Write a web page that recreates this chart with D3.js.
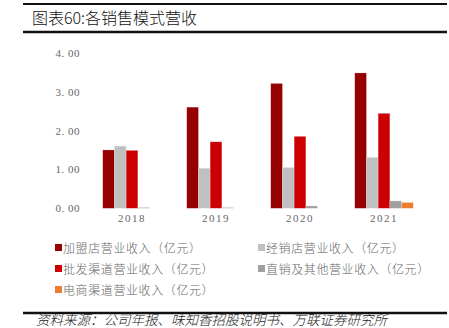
<!DOCTYPE html>
<html><head><meta charset="utf-8">
<script src="https://cdn.jsdelivr.net/npm/d3@7"></script>
<style>body{margin:0;background:#fff;}svg{display:block;}</style>
</head><body>
<script>
const categories = ["2018", "2019", "2020", "2021"];
const seriesNames = ["加盟店营业收入（亿元）", "经销店营业收入（亿元）", "批发渠道营业收入（亿元）", "直销及其他营业收入（亿元）", "电商渠道营业收入（亿元）"];
const franchise = [1.50, 2.60, 3.21, 3.48];
const dealer = [1.60, 1.03, 1.05, 1.31];
const wholesale = [1.49, 1.71, 1.85, 2.44];
const direct = [0.02, 0.02, 0.06, 0.19];
const ecommerce = [0.00, 0.00, 0.00, 0.15];
const yTicks = [0, 1, 2, 3, 4];
const colors = ["#960000", "#c0c0c0", "#cc0000", "#a0a0a0", "#ed7d31"];
const title = "图表60:各销售模式营收";
const source = "资料来源：公司年报、味知香招股说明书、万联证券研究所";

const W = 449, H = 328;
const svg = d3.select("body").append("svg").attr("width", W).attr("height", H);
const cjk = "'Noto Sans CJK SC', 'Noto Sans', sans-serif";
const serif = "'Liberation Serif', 'DejaVu Serif', serif";

// frame lines
svg.append("line").attr("x1", 23).attr("x2", 447).attr("y1", 4).attr("y2", 4).attr("stroke", "#111").attr("stroke-width", 2);
svg.append("line").attr("x1", 23).attr("x2", 447).attr("y1", 32).attr("y2", 32).attr("stroke", "#111").attr("stroke-width", 2.5);
svg.append("line").attr("x1", 23).attr("x2", 447).attr("y1", 313).attr("y2", 313).attr("stroke", "#111").attr("stroke-width", 2.5);

svg.append("text").attr("x", 32).attr("y", 24).attr("font-family", cjk).attr("font-size", 16).attr("font-weight", 300).attr("fill", "#111").text(title);
svg.append("text").attr("x", 36).attr("y", 325).attr("font-family", cjk).attr("font-size", 13.5).attr("font-weight", 300).attr("font-style", "italic").attr("fill", "#222").text(source);

const x0 = d3.scaleBand().domain(categories).range([90, 426]).paddingInner(25.5/84).paddingOuter(25.5/84/2);
const x1 = d3.scaleBand().domain(d3.range(5)).range([0, x0.bandwidth()]);
const y = d3.scaleLinear().domain([0, 4]).range([208.3, 52.7]);

const yAxis = d3.axisLeft(y).tickValues(yTicks).tickFormat(d => d3.format(".2f")(d).replace(".", ". ")).tickSize(0).tickPadding(0);
const ga = svg.append("g").attr("transform", "translate(80,0)").call(yAxis);
ga.select(".domain").remove();
ga.selectAll("text").attr("font-family", serif).attr("font-size", 11).attr("fill", "#666").attr("letter-spacing", 0.5);

const xAxis = d3.axisBottom(x0).tickSize(0).tickPadding(0);
const gx = svg.append("g").attr("transform", "translate(0,214)").call(xAxis);
gx.select(".domain").remove();
gx.selectAll("text").attr("font-family", serif).attr("font-size", 11).attr("fill", "#666").attr("letter-spacing", 1.5);

const allSeries = [franchise, dealer, wholesale, direct, ecommerce];
const g = svg.append("g");
categories.forEach((c, ci) => {
  allSeries.forEach((s, si) => {
    const v = s[ci];
    if (v <= 0) return;
    g.append("rect")
      .attr("x", x0(c) + x1(si))
      .attr("y", y(v))
      .attr("width", x1.bandwidth())
      .attr("height", y(0) - y(v))
      .attr("fill", colors[si])
      .attr("stroke", "#fff").attr("stroke-opacity", 0.35).attr("stroke-width", 0.6);
  });
});

// legend
const legPos = [[55, 248], [258, 248], [55, 269], [258, 269], [55, 290]];
seriesNames.forEach((n, i) => {
  const [lx, ly] = legPos[i];
  svg.append("rect").attr("x", lx).attr("y", ly - 4).attr("width", 7).attr("height", 7).attr("fill", colors[i]);
  svg.append("text").attr("x", lx + 8).attr("y", ly + 4.5).attr("font-family", cjk).attr("font-size", 12)
    .attr("font-weight", 300).attr("letter-spacing", 0.6).attr("fill", "#666").text(n);
});
</script>
</body></html>
